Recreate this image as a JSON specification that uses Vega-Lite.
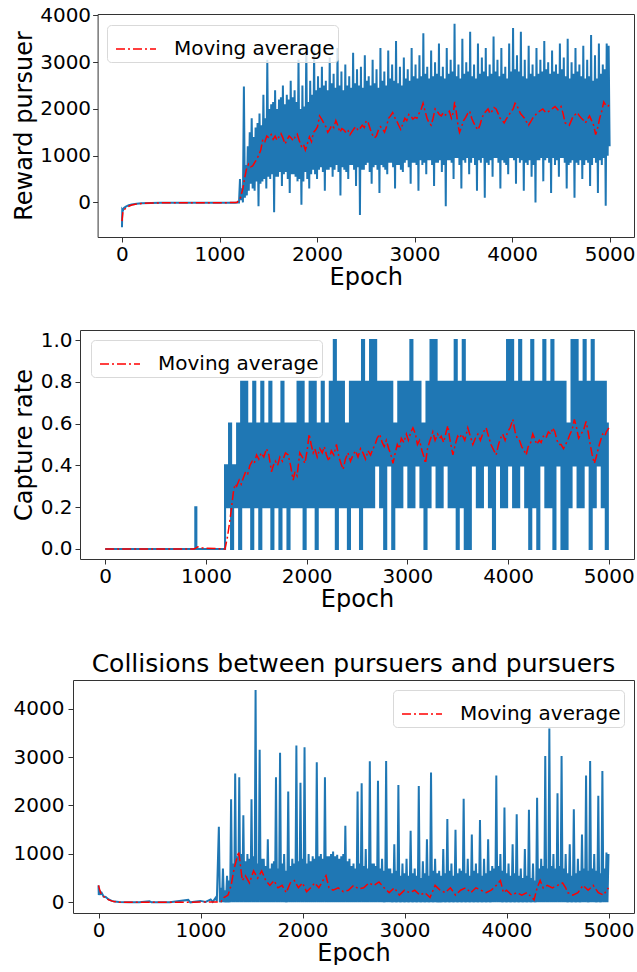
{
"$schema": "https://vega.github.io/schema/vega-lite/v6.json",
"padding": {"left": 12, "top": 5, "right": 0, "bottom": 0},
"spacing": 41,
"columns": 1,
"config": {
  "font": "DejaVu Sans",
  "view": {"stroke": null},
  "axis": {"grid": false, "domain": true, "domainColor": "#333333", "domainWidth": 1, "tickColor": "#333333", "tickSize": 5, "labelFontSize": 20, "labelColor": "#000000", "titleFontSize": 24, "titleFontWeight": "normal", "titleColor": "#000000"},
  "legend": {"symbolType": "stroke", "symbolStrokeWidth": 1.5, "symbolDash": [9,3,2,3], "symbolSize": 1600, "symbolOffset": 5, "labelFontSize": 20, "labelColor": "#000000", "labelLimit": 400, "fillColor": "rgba(255,255,255,0.8)", "strokeColor": "#d9d9d9", "cornerRadius": 4, "padding": 3, "labelOffset": 17}
},
"datasets": {
"b1": [{"e":0,"v":-530},{"e":3,"v":-150},{"e":10,"v":-170},{"e":20,"v":-120},{"e":40,"v":-90},{"e":70,"v":-60},{"e":100,"v":-45},{"e":150,"v":-30},{"e":200,"v":-20},{"e":300,"v":-12},{"e":400,"v":-10},{"e":600,"v":-8},{"e":800,"v":-6},{"e":1000,"v":-5},{"e":1160,"v":-5},{"e":1180,"v":0},
{"e":1200,"v":0},{"e":1210,"v":500},{"e":1220,"v":50},{"e":1230,"v":300},{"e":1240,"v":0},{"e":1250,"v":2480},{"e":1260,"v":100},{"e":1270,"v":800},{"e":1280,"v":150},{"e":1290,"v":1200},{"e":1300,"v":250},{"e":1310,"v":1500},{"e":1320,"v":400},{"e":1330,"v":1800},{"e":1340,"v":300},{"e":1350,"v":1400},{"e":1360,"v":250},{"e":1370,"v":1600},{"e":1380,"v":450},{"e":1390,"v":1700},
{"e":1400,"v":-80},{"e":1410,"v":1900},{"e":1420,"v":400},{"e":1430,"v":1650},{"e":1440,"v":450},{"e":1450,"v":2300},{"e":1460,"v":500},{"e":1470,"v":1800},{"e":1480,"v":300},{"e":1490,"v":3050},{"e":1500,"v":550},{"e":1510,"v":2000},{"e":1520,"v":500},{"e":1530,"v":2100},{"e":1540,"v":600},{"e":1550,"v":2150},{"e":1560,"v":-210},{"e":1570,"v":2400},{"e":1580,"v":550},{"e":1590,"v":2000},
{"e":1600,"v":550},{"e":1610,"v":2200},{"e":1620,"v":650},{"e":1630,"v":2250},{"e":1640,"v":350},{"e":1650,"v":2500},{"e":1660,"v":600},{"e":1670,"v":2100},{"e":1680,"v":650},{"e":1690,"v":2300},{"e":1700,"v":500},{"e":1710,"v":2200},{"e":1720,"v":200},{"e":1730,"v":2600},{"e":1740,"v":600},{"e":1750,"v":2250},{"e":1760,"v":600},{"e":1770,"v":2400},{"e":1780,"v":550},{"e":1790,"v":2150},
{"e":1800,"v":450},{"e":1810,"v":3050},{"e":1820,"v":500},{"e":1830,"v":2000},{"e":1840,"v":-50},{"e":1850,"v":2500},{"e":1860,"v":450},{"e":1870,"v":2050},{"e":1880,"v":650},{"e":1890,"v":3400},{"e":1900,"v":500},{"e":1910,"v":2150},{"e":1920,"v":300},{"e":1930,"v":2600},{"e":1940,"v":600},{"e":1950,"v":2300},{"e":1960,"v":700},{"e":1970,"v":3250},{"e":1980,"v":600},{"e":1990,"v":2400},
{"e":2000,"v":500},{"e":2010,"v":2700},{"e":2020,"v":700},{"e":2030,"v":2450},{"e":2040,"v":750},{"e":2050,"v":2900},{"e":2060,"v":650},{"e":2070,"v":2500},{"e":2080,"v":250},{"e":2090,"v":2600},{"e":2100,"v":700},{"e":2110,"v":2400},{"e":2120,"v":700},{"e":2130,"v":3100},{"e":2140,"v":750},{"e":2150,"v":2550},{"e":2160,"v":550},{"e":2170,"v":2750},{"e":2180,"v":700},{"e":2190,"v":2450},
{"e":2200,"v":800},{"e":2210,"v":3300},{"e":2220,"v":650},{"e":2230,"v":2500},{"e":2240,"v":150},{"e":2250,"v":2800},{"e":2260,"v":750},{"e":2270,"v":2400},{"e":2280,"v":700},{"e":2290,"v":2950},{"e":2300,"v":650},{"e":2310,"v":2500},{"e":2320,"v":500},{"e":2330,"v":2700},{"e":2340,"v":800},{"e":2350,"v":2450},{"e":2360,"v":800},{"e":2370,"v":3200},{"e":2380,"v":700},{"e":2390,"v":2550},
{"e":2400,"v":350},{"e":2410,"v":2850},{"e":2420,"v":750},{"e":2430,"v":2500},{"e":2440,"v":-270},{"e":2450,"v":2900},{"e":2460,"v":700},{"e":2470,"v":2450},{"e":2480,"v":700},{"e":2490,"v":3150},{"e":2500,"v":800},{"e":2510,"v":2600},{"e":2520,"v":850},{"e":2530,"v":2700},{"e":2540,"v":650},{"e":2550,"v":2500},{"e":2560,"v":400},{"e":2570,"v":3050},{"e":2580,"v":750},{"e":2590,"v":2550},
{"e":2600,"v":800},{"e":2610,"v":2850},{"e":2620,"v":700},{"e":2630,"v":2450},{"e":2640,"v":200},{"e":2650,"v":3300},{"e":2660,"v":800},{"e":2670,"v":2600},{"e":2680,"v":750},{"e":2690,"v":2800},{"e":2700,"v":700},{"e":2710,"v":2500},{"e":2720,"v":600},{"e":2730,"v":3250},{"e":2740,"v":850},{"e":2750,"v":2650},{"e":2760,"v":850},{"e":2770,"v":2950},{"e":2780,"v":750},{"e":2790,"v":2600},
{"e":2800,"v":300},{"e":2810,"v":3450},{"e":2820,"v":800},{"e":2830,"v":2550},{"e":2840,"v":800},{"e":2850,"v":2900},{"e":2860,"v":700},{"e":2870,"v":2500},{"e":2880,"v":650},{"e":2890,"v":3100},{"e":2900,"v":850},{"e":2910,"v":2650},{"e":2920,"v":900},{"e":2930,"v":2850},{"e":2940,"v":750},{"e":2950,"v":2600},{"e":2960,"v":400},{"e":2970,"v":3300},{"e":2980,"v":850},{"e":2990,"v":2700},
{"e":3000,"v":850},{"e":3010,"v":2950},{"e":3020,"v":800},{"e":3030,"v":2650},{"e":3040,"v":250},{"e":3050,"v":3150},{"e":3060,"v":900},{"e":3070,"v":2700},{"e":3080,"v":800},{"e":3090,"v":3620},{"e":3100,"v":850},{"e":3110,"v":2750},{"e":3120,"v":600},{"e":3130,"v":2900},{"e":3140,"v":900},{"e":3150,"v":2650},{"e":3160,"v":900},{"e":3170,"v":3250},{"e":3180,"v":800},{"e":3190,"v":2700},
{"e":3200,"v":350},{"e":3210,"v":3000},{"e":3220,"v":850},{"e":3230,"v":2750},{"e":3240,"v":850},{"e":3250,"v":3400},{"e":3260,"v":900},{"e":3270,"v":2700},{"e":3280,"v":650},{"e":3290,"v":2900},{"e":3300,"v":800},{"e":3310,"v":2650},{"e":3320,"v":-80},{"e":3330,"v":3300},{"e":3340,"v":900},{"e":3350,"v":2750},{"e":3360,"v":900},{"e":3370,"v":3050},{"e":3380,"v":850},{"e":3390,"v":2800},
{"e":3400,"v":500},{"e":3410,"v":3820},{"e":3420,"v":950},{"e":3430,"v":2700},{"e":3440,"v":950},{"e":3450,"v":2950},{"e":3460,"v":800},{"e":3470,"v":2650},{"e":3480,"v":300},{"e":3490,"v":3500},{"e":3500,"v":900},{"e":3510,"v":2750},{"e":3520,"v":850},{"e":3530,"v":3000},{"e":3540,"v":950},{"e":3550,"v":2800},{"e":3560,"v":600},{"e":3570,"v":3650},{"e":3580,"v":850},{"e":3590,"v":2700},
{"e":3600,"v":950},{"e":3610,"v":2950},{"e":3620,"v":800},{"e":3630,"v":2650},{"e":3640,"v":250},{"e":3650,"v":3400},{"e":3660,"v":900},{"e":3670,"v":2750},{"e":3680,"v":850},{"e":3690,"v":3100},{"e":3700,"v":950},{"e":3710,"v":2800},{"e":3720,"v":100},{"e":3730,"v":3300},{"e":3740,"v":850},{"e":3750,"v":2700},{"e":3760,"v":800},{"e":3770,"v":2950},{"e":3780,"v":900},{"e":3790,"v":2750},
{"e":3800,"v":550},{"e":3810,"v":3550},{"e":3820,"v":950},{"e":3830,"v":2800},{"e":3840,"v":950},{"e":3850,"v":3050},{"e":3860,"v":850},{"e":3870,"v":2700},{"e":3880,"v":300},{"e":3890,"v":3300},{"e":3900,"v":900},{"e":3910,"v":2750},{"e":3920,"v":850},{"e":3930,"v":2900},{"e":3940,"v":800},{"e":3950,"v":2650},{"e":3960,"v":600},{"e":3970,"v":3400},{"e":3980,"v":950},{"e":3990,"v":2800},
{"e":4000,"v":950},{"e":4010,"v":3730},{"e":4020,"v":900},{"e":4030,"v":2850},{"e":4040,"v":400},{"e":4050,"v":3150},{"e":4060,"v":950},{"e":4070,"v":2800},{"e":4080,"v":850},{"e":4090,"v":3650},{"e":4100,"v":900},{"e":4110,"v":2700},{"e":4120,"v":250},{"e":4130,"v":3050},{"e":4140,"v":850},{"e":4150,"v":2650},{"e":4160,"v":800},{"e":4170,"v":3350},{"e":4180,"v":900},{"e":4190,"v":2750},
{"e":4200,"v":550},{"e":4210,"v":2950},{"e":4220,"v":800},{"e":4230,"v":2700},{"e":4240,"v":0},{"e":4250,"v":3300},{"e":4260,"v":900},{"e":4270,"v":2750},{"e":4280,"v":900},{"e":4290,"v":3050},{"e":4300,"v":950},{"e":4310,"v":2800},{"e":4320,"v":450},{"e":4330,"v":3450},{"e":4340,"v":900},{"e":4350,"v":2850},{"e":4360,"v":950},{"e":4370,"v":3000},{"e":4380,"v":850},{"e":4390,"v":2750},
{"e":4400,"v":200},{"e":4410,"v":3250},{"e":4420,"v":950},{"e":4430,"v":2800},{"e":4440,"v":800},{"e":4450,"v":2950},{"e":4460,"v":900},{"e":4470,"v":2750},{"e":4480,"v":550},{"e":4490,"v":3400},{"e":4500,"v":950},{"e":4510,"v":2850},{"e":4520,"v":950},{"e":4530,"v":3100},{"e":4540,"v":850},{"e":4550,"v":2700},{"e":4560,"v":300},{"e":4570,"v":3500},{"e":4580,"v":800},{"e":4590,"v":2650},
{"e":4600,"v":850},{"e":4610,"v":3000},{"e":4620,"v":900},{"e":4630,"v":2750},{"e":4640,"v":100},{"e":4650,"v":3300},{"e":4660,"v":850},{"e":4670,"v":2800},{"e":4680,"v":800},{"e":4690,"v":2950},{"e":4700,"v":900},{"e":4710,"v":2700},{"e":4720,"v":500},{"e":4730,"v":3350},{"e":4740,"v":800},{"e":4750,"v":2650},{"e":4760,"v":900},{"e":4770,"v":3050},{"e":4780,"v":850},{"e":4790,"v":2700},
{"e":4800,"v":350},{"e":4810,"v":3580},{"e":4820,"v":800},{"e":4830,"v":2600},{"e":4840,"v":950},{"e":4850,"v":3150},{"e":4860,"v":850},{"e":4870,"v":2650},{"e":4880,"v":200},{"e":4890,"v":3400},{"e":4900,"v":900},{"e":4910,"v":2750},{"e":4920,"v":800},{"e":4930,"v":2950},{"e":4940,"v":950},{"e":4950,"v":2850},{"e":4960,"v":-70},{"e":4970,"v":3400},{"e":4980,"v":1000},{"e":4990,"v":3350},{"e":5000,"v":1200}],
"r1": [{"e":0,"v":-400},{"e":10,"v":-200},{"e":30,"v":-140},{"e":60,"v":-90},{"e":100,"v":-55},{"e":150,"v":-35},{"e":200,"v":-22},{"e":300,"v":-12},{"e":500,"v":-8},{"e":800,"v":-6},{"e":1100,"v":-5},{"e":1180,"v":0},{"e":1215,"v":100},{"e":1240,"v":300},{"e":1256,"v":500},{"e":1275,"v":700},{"e":1298,"v":820},{"e":1320,"v":760},{"e":1340,"v":780},{"e":1360,"v":850},{"e":1381,"v":920},{"e":1400,"v":1000},{"e":1423,"v":1120},{"e":1444,"v":1350},{"e":1465,"v":1300},{"e":1485,"v":1420},{"e":1506,"v":1380},{"e":1530,"v":1450},{"e":1550,"v":1350},{"e":1570,"v":1420},{"e":1589,"v":1330},{"e":1610,"v":1400},{"e":1630,"v":1470},{"e":1650,"v":1380},{"e":1672,"v":1250},{"e":1690,"v":1330},{"e":1714,"v":1420},{"e":1735,"v":1380},{"e":1755,"v":1320},{"e":1775,"v":1400},{"e":1797,"v":1460},{"e":1818,"v":1320},{"e":1839,"v":1200},{"e":1860,"v":1250},{"e":1880,"v":1120},{"e":1900,"v":1250},{"e":1922,"v":1400},{"e":1943,"v":1300},{"e":1964,"v":1500},{"e":1985,"v":1550},{"e":2005,"v":1620},{"e":2026,"v":1850},{"e":2047,"v":1780},{"e":2068,"v":1700},{"e":2090,"v":1620},{"e":2110,"v":1500},{"e":2130,"v":1560},{"e":2151,"v":1650},{"e":2172,"v":1600},{"e":2193,"v":1750},{"e":2214,"v":1640},{"e":2234,"v":1500},{"e":2255,"v":1580},{"e":2276,"v":1550},{"e":2300,"v":1480},{"e":2320,"v":1530},{"e":2338,"v":1450},{"e":2360,"v":1520},{"e":2380,"v":1580},{"e":2400,"v":1620},{"e":2420,"v":1540},{"e":2440,"v":1580},{"e":2463,"v":1650},{"e":2485,"v":1600},{"e":2505,"v":1750},{"e":2525,"v":1700},{"e":2547,"v":1560},{"e":2567,"v":1450},{"e":2588,"v":1380},{"e":2608,"v":1420},{"e":2630,"v":1550},{"e":2650,"v":1620},{"e":2670,"v":1580},{"e":2692,"v":1500},{"e":2712,"v":1620},{"e":2733,"v":1800},{"e":2754,"v":1850},{"e":2775,"v":1920},{"e":2796,"v":1820},{"e":2816,"v":1750},{"e":2837,"v":1650},{"e":2858,"v":1560},{"e":2880,"v":1680},{"e":2900,"v":1800},{"e":2920,"v":1750},{"e":2941,"v":1880},{"e":2962,"v":1850},{"e":2983,"v":1780},{"e":3004,"v":1820},{"e":3024,"v":1800},{"e":3045,"v":1900},{"e":3066,"v":1980},{"e":3087,"v":2120},{"e":3108,"v":1950},{"e":3128,"v":1800},{"e":3149,"v":1700},{"e":3170,"v":1650},{"e":3190,"v":1800},{"e":3211,"v":2000},{"e":3232,"v":1950},{"e":3253,"v":1880},{"e":3274,"v":1850},{"e":3295,"v":1920},{"e":3316,"v":1870},{"e":3336,"v":1900},{"e":3357,"v":1950},{"e":3378,"v":1800},{"e":3400,"v":1950},{"e":3411,"v":2150},{"e":3430,"v":1900},{"e":3445,"v":1650},{"e":3461,"v":1500},{"e":3482,"v":1620},{"e":3503,"v":1750},{"e":3524,"v":1820},{"e":3544,"v":1900},{"e":3565,"v":1950},{"e":3586,"v":1800},{"e":3607,"v":1700},{"e":3628,"v":1620},{"e":3649,"v":1550},{"e":3670,"v":1650},{"e":3690,"v":1800},{"e":3711,"v":1900},{"e":3732,"v":1950},{"e":3753,"v":2000},{"e":3774,"v":1900},{"e":3794,"v":1950},{"e":3815,"v":2030},{"e":3836,"v":2000},{"e":3857,"v":1900},{"e":3877,"v":1800},{"e":3898,"v":1760},{"e":3919,"v":1700},{"e":3940,"v":1780},{"e":3961,"v":1850},{"e":3982,"v":1920},{"e":4011,"v":2000},{"e":4030,"v":2120},{"e":4044,"v":2100},{"e":4065,"v":2000},{"e":4086,"v":1900},{"e":4107,"v":1850},{"e":4127,"v":1800},{"e":4148,"v":1720},{"e":4169,"v":1650},{"e":4190,"v":1720},{"e":4211,"v":1800},{"e":4232,"v":1850},{"e":4252,"v":1900},{"e":4280,"v":1950},{"e":4315,"v":2000},{"e":4346,"v":1920},{"e":4377,"v":1950},{"e":4408,"v":2000},{"e":4440,"v":2050},{"e":4470,"v":1980},{"e":4502,"v":2050},{"e":4523,"v":1900},{"e":4544,"v":1700},{"e":4565,"v":1680},{"e":4586,"v":1650},{"e":4607,"v":1750},{"e":4627,"v":1850},{"e":4648,"v":1880},{"e":4669,"v":1920},{"e":4690,"v":1850},{"e":4711,"v":1800},{"e":4732,"v":1760},{"e":4752,"v":1700},{"e":4773,"v":1780},{"e":4794,"v":1850},{"e":4815,"v":1750},{"e":4836,"v":1650},{"e":4857,"v":1450},{"e":4878,"v":1600},{"e":4898,"v":1800},{"e":4919,"v":1950},{"e":4940,"v":2150},{"e":4960,"v":2080},{"e":4981,"v":2050},{"e":5000,"v":2100}],
"b2": [{"e":0,"v":0},{"e":890,"v":0},{"e":900,"v":0.2},{"e":910,"v":0},{"e":1160,"v":0},
{"e":1180,"v":0},{"e":1200,"v":0.4},{"e":1220,"v":0.2},{"e":1240,"v":0.6},{"e":1260,"v":0},{"e":1280,"v":0.4},{"e":1300,"v":0.2},{"e":1320,"v":0.6},
{"e":1340,"v":0},{"e":1360,"v":0.8},{"e":1380,"v":0.2},{"e":1400,"v":0.8},{"e":1420,"v":0.2},{"e":1440,"v":0.6},{"e":1460,"v":0},{"e":1480,"v":0.8},{"e":1500,"v":0.2},{"e":1520,"v":0.6},{"e":1540,"v":0},{"e":1560,"v":0.8},{"e":1580,"v":0.2},{"e":1600,"v":0.6},{"e":1620,"v":0.2},{"e":1640,"v":0.8},{"e":1660,"v":0},{"e":1680,"v":0.6},{"e":1700,"v":0.2},{"e":1720,"v":0.6},{"e":1740,"v":0},{"e":1760,"v":0.8},{"e":1780,"v":0.2},{"e":1800,"v":0.6},{"e":1820,"v":0},{"e":1840,"v":0.6},{"e":1860,"v":0.2},{"e":1880,"v":0.6},{"e":1900,"v":0.2},
{"e":1920,"v":0.8},{"e":1940,"v":0.2},{"e":1960,"v":0.8},{"e":1980,"v":0},{"e":2000,"v":0.6},{"e":2020,"v":0.2},{"e":2040,"v":0.8},{"e":2060,"v":0.2},{"e":2080,"v":0.8},{"e":2100,"v":0},{"e":2120,"v":0.6},{"e":2140,"v":0.2},{"e":2160,"v":0.8},{"e":2180,"v":0.2},{"e":2200,"v":0.6},{"e":2220,"v":0.2},{"e":2240,"v":0.8},
{"e":2260,"v":0.2},{"e":2280,"v":1.0},{"e":2300,"v":0},{"e":2320,"v":0.8},{"e":2340,"v":0.2},{"e":2360,"v":0.8},{"e":2380,"v":0.2},{"e":2400,"v":0.6},{"e":2420,"v":0},{"e":2440,"v":0.8},{"e":2460,"v":0.2},{"e":2480,"v":0.8},{"e":2500,"v":0.2},{"e":2520,"v":0.8},{"e":2540,"v":0},{"e":2560,"v":1.0},{"e":2580,"v":0.2},{"e":2600,"v":0.8},{"e":2620,"v":0.2},{"e":2640,"v":1.0},{"e":2660,"v":0.2},{"e":2680,"v":1.0},{"e":2700,"v":0.4},{"e":2720,"v":0.8},{"e":2740,"v":0.2},{"e":2760,"v":0.8},{"e":2780,"v":0},{"e":2800,"v":0.8},{"e":2820,"v":0.4},{"e":2840,"v":0.8},{"e":2860,"v":0},{"e":2880,"v":0.6},{"e":2900,"v":0.2},
{"e":2920,"v":0.8},{"e":2940,"v":0.2},{"e":2960,"v":0.8},{"e":2980,"v":0.4},{"e":3000,"v":0.8},{"e":3020,"v":0.2},{"e":3040,"v":1.0},{"e":3060,"v":0.2},{"e":3080,"v":0.8},{"e":3100,"v":0.4},{"e":3120,"v":0.8},{"e":3140,"v":0.2},{"e":3160,"v":0.6},{"e":3180,"v":0},{"e":3200,"v":0.8},{"e":3220,"v":0.2},{"e":3240,"v":1.0},{"e":3260,"v":0.4},{"e":3280,"v":1.0},{"e":3300,"v":0.2},{"e":3320,"v":0.8},{"e":3340,"v":0.2},{"e":3360,"v":0.8},{"e":3380,"v":0.4},{"e":3400,"v":0.8},{"e":3420,"v":0.2},{"e":3440,"v":0.8},{"e":3460,"v":0.2},{"e":3480,"v":1.0},{"e":3500,"v":0},{"e":3520,"v":0.8},{"e":3540,"v":0.2},{"e":3560,"v":1.0},{"e":3580,"v":0},{"e":3600,"v":0.8},{"e":3620,"v":0},{"e":3640,"v":0.8},{"e":3660,"v":0.4},{"e":3680,"v":0.8},{"e":3700,"v":0.2},{"e":3720,"v":0.8},{"e":3740,"v":0.2},{"e":3760,"v":0.8},{"e":3780,"v":0.4},{"e":3800,"v":0.8},{"e":3820,"v":0.2},{"e":3840,"v":0.8},{"e":3860,"v":0},{"e":3880,"v":0.8},{"e":3900,"v":0.4},{"e":3920,"v":0.8},{"e":3940,"v":0.2},{"e":3960,"v":0.8},{"e":3980,"v":0.2},{"e":4000,"v":1.0},{"e":4020,"v":0.4},{"e":4040,"v":1.0},{"e":4060,"v":0.2},{"e":4080,"v":0.8},{"e":4100,"v":0.2},{"e":4120,"v":1.0},{"e":4140,"v":0.4},{"e":4160,"v":0.8},{"e":4180,"v":0.2},{"e":4200,"v":0.8},{"e":4220,"v":0},{"e":4240,"v":1.0},{"e":4260,"v":0.2},{"e":4280,"v":0.8},{"e":4300,"v":0},{"e":4320,"v":0.8},{"e":4340,"v":0.4},{"e":4360,"v":1.0},{"e":4380,"v":0.2},{"e":4400,"v":0.8},{"e":4420,"v":0.2},{"e":4440,"v":1.0},{"e":4460,"v":0},{"e":4480,"v":0.8},{"e":4500,"v":0.4},{"e":4520,"v":0.8},{"e":4540,"v":0},{"e":4560,"v":0.8},{"e":4580,"v":0},{"e":4600,"v":0.6},{"e":4620,"v":0.2},{"e":4640,"v":1.0},{"e":4660,"v":0.4},{"e":4680,"v":1.0},{"e":4700,"v":0.2},{"e":4720,"v":0.8},{"e":4740,"v":0.2},{"e":4760,"v":1.0},{"e":4780,"v":0.4},{"e":4800,"v":0.8},{"e":4820,"v":0},{"e":4840,"v":1.0},{"e":4860,"v":0.2},{"e":4880,"v":0.8},{"e":4900,"v":0.4},{"e":4920,"v":0.8},{"e":4940,"v":0.2},{"e":4960,"v":0.8},{"e":4980,"v":0},{"e":5000,"v":0.6}],
"r2": [{"e":0,"v":0},{"e":880,"v":0},{"e":900,"v":0.004},{"e":920,"v":0.01},{"e":960,"v":0.006},{"e":1000,"v":0.004},{"e":1190,"v":0},{"e":1215,"v":0.06},{"e":1239,"v":0.14},{"e":1255,"v":0.2},{"e":1272,"v":0.27},{"e":1290,"v":0.31},{"e":1305,"v":0.30},{"e":1330,"v":0.33},{"e":1350,"v":0.31},{"e":1371,"v":0.34},{"e":1395,"v":0.37},{"e":1415,"v":0.36},{"e":1437,"v":0.40},{"e":1460,"v":0.42},{"e":1480,"v":0.41},{"e":1503,"v":0.45},{"e":1525,"v":0.43},{"e":1550,"v":0.46},{"e":1575,"v":0.44},{"e":1602,"v":0.48},{"e":1625,"v":0.45},{"e":1651,"v":0.37},{"e":1670,"v":0.40},{"e":1690,"v":0.42},{"e":1712,"v":0.40},{"e":1734,"v":0.44},{"e":1760,"v":0.42},{"e":1790,"v":0.46},{"e":1817,"v":0.45},{"e":1840,"v":0.40},{"e":1866,"v":0.33},{"e":1885,"v":0.37},{"e":1905,"v":0.35},{"e":1932,"v":0.46},{"e":1957,"v":0.44},{"e":1982,"v":0.41},{"e":2005,"v":0.47},{"e":2025,"v":0.55},{"e":2045,"v":0.50},{"e":2065,"v":0.46},{"e":2081,"v":0.48},{"e":2105,"v":0.44},{"e":2131,"v":0.48},{"e":2155,"v":0.46},{"e":2175,"v":0.49},{"e":2197,"v":0.45},{"e":2220,"v":0.42},{"e":2245,"v":0.47},{"e":2270,"v":0.45},{"e":2296,"v":0.50},{"e":2320,"v":0.44},{"e":2340,"v":0.41},{"e":2362,"v":0.38},{"e":2385,"v":0.43},{"e":2410,"v":0.46},{"e":2435,"v":0.42},{"e":2461,"v":0.45},{"e":2485,"v":0.47},{"e":2510,"v":0.44},{"e":2535,"v":0.48},{"e":2560,"v":0.46},{"e":2585,"v":0.43},{"e":2610,"v":0.47},{"e":2635,"v":0.45},{"e":2659,"v":0.48},{"e":2680,"v":0.50},{"e":2700,"v":0.53},{"e":2725,"v":0.55},{"e":2750,"v":0.51},{"e":2770,"v":0.49},{"e":2791,"v":0.52},{"e":2815,"v":0.48},{"e":2837,"v":0.45},{"e":2857,"v":0.41},{"e":2880,"v":0.46},{"e":2900,"v":0.50},{"e":2920,"v":0.48},{"e":2940,"v":0.53},{"e":2965,"v":0.51},{"e":2990,"v":0.55},{"e":3010,"v":0.52},{"e":3035,"v":0.56},{"e":3055,"v":0.58},{"e":3080,"v":0.55},{"e":3100,"v":0.50},{"e":3121,"v":0.52},{"e":3145,"v":0.47},{"e":3165,"v":0.44},{"e":3180,"v":0.41},{"e":3200,"v":0.48},{"e":3225,"v":0.52},{"e":3253,"v":0.56},{"e":3275,"v":0.52},{"e":3300,"v":0.55},{"e":3320,"v":0.53},{"e":3336,"v":0.54},{"e":3360,"v":0.51},{"e":3385,"v":0.56},{"e":3402,"v":0.59},{"e":3420,"v":0.53},{"e":3440,"v":0.48},{"e":3452,"v":0.45},{"e":3475,"v":0.50},{"e":3500,"v":0.54},{"e":3518,"v":0.53},{"e":3540,"v":0.55},{"e":3570,"v":0.52},{"e":3600,"v":0.58},{"e":3625,"v":0.54},{"e":3650,"v":0.50},{"e":3675,"v":0.53},{"e":3700,"v":0.55},{"e":3725,"v":0.52},{"e":3755,"v":0.56},{"e":3782,"v":0.58},{"e":3805,"v":0.54},{"e":3830,"v":0.50},{"e":3860,"v":0.47},{"e":3881,"v":0.45},{"e":3905,"v":0.50},{"e":3925,"v":0.53},{"e":3947,"v":0.55},{"e":3970,"v":0.52},{"e":3995,"v":0.56},{"e":4020,"v":0.58},{"e":4047,"v":0.62},{"e":4070,"v":0.56},{"e":4090,"v":0.53},{"e":4113,"v":0.52},{"e":4135,"v":0.49},{"e":4160,"v":0.47},{"e":4179,"v":0.45},{"e":4200,"v":0.49},{"e":4225,"v":0.51},{"e":4245,"v":0.55},{"e":4262,"v":0.53},{"e":4285,"v":0.50},{"e":4310,"v":0.52},{"e":4328,"v":0.51},{"e":4350,"v":0.54},{"e":4375,"v":0.53},{"e":4400,"v":0.56},{"e":4425,"v":0.55},{"e":4443,"v":0.58},{"e":4465,"v":0.56},{"e":4485,"v":0.52},{"e":4505,"v":0.50},{"e":4526,"v":0.50},{"e":4550,"v":0.48},{"e":4570,"v":0.50},{"e":4592,"v":0.52},{"e":4615,"v":0.55},{"e":4635,"v":0.57},{"e":4658,"v":0.62},{"e":4680,"v":0.58},{"e":4700,"v":0.53},{"e":4724,"v":0.55},{"e":4750,"v":0.57},{"e":4774,"v":0.61},{"e":4795,"v":0.56},{"e":4815,"v":0.50},{"e":4835,"v":0.45},{"e":4856,"v":0.41},{"e":4875,"v":0.44},{"e":4890,"v":0.47},{"e":4906,"v":0.50},{"e":4925,"v":0.53},{"e":4939,"v":0.55},{"e":4960,"v":0.54},{"e":4975,"v":0.56},{"e":4988,"v":0.57},{"e":5000,"v":0.58}],
"b3": [{"e":0,"v":350},{"e":3,"v":150},{"e":10,"v":250},{"e":20,"v":180},{"e":30,"v":200},{"e":50,"v":120},{"e":70,"v":110},{"e":100,"v":60},{"e":130,"v":30},{"e":160,"v":15},{"e":200,"v":5},{"e":300,"v":3},{"e":400,"v":0},{"e":500,"v":20},{"e":520,"v":0},{"e":700,"v":0},{"e":880,"v":50},{"e":900,"v":0},{"e":1000,"v":30},{"e":1050,"v":10},{"e":1100,"v":60},{"e":1120,"v":10},{"e":1150,"v":100},{"e":1160,"v":20},
{"e":1180,"v":1560},{"e":1190,"v":0},{"e":1200,"v":300},{"e":1210,"v":0},{"e":1220,"v":700},{"e":1230,"v":0},{"e":1240,"v":250},{"e":1250,"v":0},{"e":1260,"v":550},{"e":1270,"v":0},{"e":1280,"v":450},{"e":1290,"v":0},{"e":1300,"v":2130},{"e":1310,"v":0},{"e":1320,"v":800},{"e":1330,"v":0},{"e":1340,"v":2660},{"e":1350,"v":0},{"e":1360,"v":950},{"e":1370,"v":0},{"e":1380,"v":2580},{"e":1390,"v":0},{"e":1400,"v":1000},{"e":1410,"v":0},{"e":1420,"v":1800},{"e":1430,"v":0},{"e":1440,"v":850},{"e":1450,"v":0},{"e":1460,"v":1000},{"e":1470,"v":0},{"e":1480,"v":900},{"e":1490,"v":0},{"e":1500,"v":2130},{"e":1510,"v":0},{"e":1520,"v":950},{"e":1530,"v":0},{"e":1540,"v":4385},{"e":1550,"v":0},{"e":1560,"v":800},{"e":1570,"v":0},{"e":1580,"v":3150},{"e":1590,"v":0},{"e":1600,"v":900},{"e":1610,"v":0},{"e":1620,"v":900},{"e":1630,"v":0},{"e":1640,"v":750},{"e":1650,"v":0},{"e":1660,"v":1300},{"e":1670,"v":0},{"e":1680,"v":700},{"e":1690,"v":0},{"e":1700,"v":800},{"e":1710,"v":0},{"e":1720,"v":850},{"e":1730,"v":0},{"e":1740,"v":2580},{"e":1750,"v":0},{"e":1760,"v":700},{"e":1770,"v":0},{"e":1780,"v":3090},{"e":1790,"v":0},{"e":1800,"v":800},{"e":1810,"v":0},{"e":1820,"v":1000},{"e":1830,"v":0},{"e":1840,"v":650},{"e":1850,"v":0},{"e":1860,"v":2290},{"e":1870,"v":0},{"e":1880,"v":750},{"e":1890,"v":0},{"e":1900,"v":900},{"e":1910,"v":0},{"e":1920,"v":800},{"e":1930,"v":0},{"e":1940,"v":3240},{"e":1950,"v":0},{"e":1960,"v":850},{"e":1970,"v":0},{"e":1980,"v":2470},{"e":1990,"v":0},{"e":2000,"v":900},{"e":2010,"v":0},{"e":2020,"v":3200},{"e":2030,"v":0},{"e":2040,"v":800},{"e":2050,"v":0},{"e":2060,"v":1000},{"e":2070,"v":0},{"e":2080,"v":850},{"e":2090,"v":0},{"e":2100,"v":950},{"e":2110,"v":0},{"e":2120,"v":900},{"e":2130,"v":0},{"e":2140,"v":2890},{"e":2150,"v":0},{"e":2160,"v":950},{"e":2170,"v":0},{"e":2180,"v":1000},{"e":2190,"v":0},{"e":2200,"v":900},{"e":2210,"v":0},{"e":2220,"v":2580},{"e":2230,"v":0},{"e":2240,"v":950},{"e":2250,"v":0},{"e":2260,"v":950},{"e":2270,"v":0},{"e":2280,"v":1000},{"e":2290,"v":0},{"e":2300,"v":1050},{"e":2310,"v":0},{"e":2320,"v":950},{"e":2330,"v":0},{"e":2340,"v":980},{"e":2350,"v":0},{"e":2360,"v":900},{"e":2370,"v":0},{"e":2380,"v":950},{"e":2390,"v":0},{"e":2400,"v":1000},{"e":2410,"v":0},{"e":2420,"v":1580},{"e":2430,"v":0},{"e":2440,"v":850},{"e":2450,"v":0},{"e":2460,"v":900},{"e":2470,"v":0},{"e":2480,"v":750},{"e":2490,"v":0},{"e":2500,"v":800},{"e":2510,"v":0},{"e":2520,"v":700},{"e":2530,"v":0},{"e":2540,"v":2290},{"e":2550,"v":0},{"e":2560,"v":800},{"e":2570,"v":0},{"e":2580,"v":2460},{"e":2590,"v":0},{"e":2600,"v":750},{"e":2610,"v":0},{"e":2620,"v":1100},{"e":2630,"v":0},{"e":2640,"v":700},{"e":2650,"v":0},{"e":2660,"v":2910},{"e":2670,"v":0},{"e":2680,"v":800},{"e":2690,"v":0},{"e":2700,"v":800},{"e":2710,"v":0},{"e":2720,"v":750},{"e":2730,"v":0},{"e":2740,"v":2510},{"e":2750,"v":0},{"e":2760,"v":700},{"e":2770,"v":0},{"e":2780,"v":900},{"e":2790,"v":0},{"e":2800,"v":650},{"e":2810,"v":0},{"e":2820,"v":2920},{"e":2830,"v":0},{"e":2840,"v":700},{"e":2850,"v":0},{"e":2860,"v":700},{"e":2870,"v":0},{"e":2880,"v":600},{"e":2890,"v":0},{"e":2900,"v":1200},{"e":2910,"v":0},{"e":2920,"v":650},{"e":2930,"v":0},{"e":2940,"v":2420},{"e":2950,"v":0},{"e":2960,"v":550},{"e":2970,"v":0},{"e":2980,"v":800},{"e":2990,"v":0},{"e":3000,"v":600},{"e":3010,"v":0},{"e":3020,"v":900},{"e":3030,"v":0},{"e":3040,"v":550},{"e":3050,"v":0},{"e":3060,"v":1480},{"e":3070,"v":0},{"e":3080,"v":600},{"e":3090,"v":0},{"e":3100,"v":700},{"e":3110,"v":0},{"e":3120,"v":550},{"e":3130,"v":0},{"e":3140,"v":2400},{"e":3150,"v":0},{"e":3160,"v":500},{"e":3170,"v":0},{"e":3180,"v":850},{"e":3190,"v":0},{"e":3200,"v":600},{"e":3210,"v":0},{"e":3220,"v":1300},{"e":3230,"v":0},{"e":3240,"v":550},{"e":3250,"v":0},{"e":3260,"v":2680},{"e":3270,"v":0},{"e":3280,"v":650},{"e":3290,"v":0},{"e":3300,"v":900},{"e":3310,"v":0},{"e":3320,"v":600},{"e":3330,"v":0},{"e":3340,"v":650},{"e":3350,"v":0},{"e":3360,"v":550},{"e":3370,"v":0},{"e":3380,"v":1100},{"e":3390,"v":0},{"e":3400,"v":600},{"e":3410,"v":0},{"e":3420,"v":1720},{"e":3430,"v":0},{"e":3440,"v":650},{"e":3450,"v":0},{"e":3460,"v":800},{"e":3470,"v":0},{"e":3480,"v":550},{"e":3490,"v":0},{"e":3500,"v":1500},{"e":3510,"v":0},{"e":3520,"v":600},{"e":3530,"v":0},{"e":3540,"v":700},{"e":3550,"v":0},{"e":3560,"v":650},{"e":3570,"v":0},{"e":3580,"v":2140},{"e":3590,"v":0},{"e":3600,"v":600},{"e":3610,"v":0},{"e":3620,"v":900},{"e":3630,"v":0},{"e":3640,"v":550},{"e":3650,"v":0},{"e":3660,"v":1400},{"e":3670,"v":0},{"e":3680,"v":650},{"e":3690,"v":0},{"e":3700,"v":800},{"e":3710,"v":0},{"e":3720,"v":600},{"e":3730,"v":0},{"e":3740,"v":1700},{"e":3750,"v":0},{"e":3760,"v":550},{"e":3770,"v":0},{"e":3780,"v":900},{"e":3790,"v":0},{"e":3800,"v":600},{"e":3810,"v":0},{"e":3820,"v":1300},{"e":3830,"v":0},{"e":3840,"v":650},{"e":3850,"v":0},{"e":3860,"v":750},{"e":3870,"v":0},{"e":3880,"v":700},{"e":3890,"v":0},{"e":3900,"v":2620},{"e":3910,"v":0},{"e":3920,"v":750},{"e":3930,"v":0},{"e":3940,"v":1000},{"e":3950,"v":0},{"e":3960,"v":650},{"e":3970,"v":0},{"e":3980,"v":1960},{"e":3990,"v":0},{"e":4000,"v":600},{"e":4010,"v":0},{"e":4020,"v":800},{"e":4030,"v":0},{"e":4040,"v":550},{"e":4050,"v":0},{"e":4060,"v":1200},{"e":4070,"v":0},{"e":4080,"v":600},{"e":4090,"v":0},{"e":4100,"v":1820},{"e":4110,"v":0},{"e":4120,"v":550},{"e":4130,"v":0},{"e":4140,"v":700},{"e":4150,"v":0},{"e":4160,"v":500},{"e":4170,"v":0},{"e":4180,"v":1100},{"e":4190,"v":0},{"e":4200,"v":550},{"e":4210,"v":0},{"e":4220,"v":1910},{"e":4230,"v":0},{"e":4240,"v":500},{"e":4250,"v":0},{"e":4260,"v":800},{"e":4270,"v":0},{"e":4280,"v":450},{"e":4290,"v":0},{"e":4300,"v":2160},{"e":4310,"v":0},{"e":4320,"v":700},{"e":4330,"v":0},{"e":4340,"v":900},{"e":4350,"v":0},{"e":4360,"v":750},{"e":4370,"v":0},{"e":4380,"v":3020},{"e":4390,"v":0},{"e":4400,"v":700},{"e":4410,"v":0},{"e":4420,"v":3590},{"e":4430,"v":0},{"e":4440,"v":750},{"e":4450,"v":0},{"e":4460,"v":1000},{"e":4470,"v":0},{"e":4480,"v":700},{"e":4490,"v":0},{"e":4500,"v":2250},{"e":4510,"v":0},{"e":4520,"v":750},{"e":4530,"v":0},{"e":4540,"v":3020},{"e":4550,"v":0},{"e":4560,"v":700},{"e":4570,"v":0},{"e":4580,"v":1000},{"e":4590,"v":0},{"e":4600,"v":600},{"e":4610,"v":0},{"e":4620,"v":1200},{"e":4630,"v":0},{"e":4640,"v":550},{"e":4650,"v":0},{"e":4660,"v":1920},{"e":4670,"v":0},{"e":4680,"v":600},{"e":4690,"v":0},{"e":4700,"v":900},{"e":4710,"v":0},{"e":4720,"v":650},{"e":4730,"v":0},{"e":4740,"v":1400},{"e":4750,"v":0},{"e":4760,"v":700},{"e":4770,"v":0},{"e":4780,"v":2620},{"e":4790,"v":0},{"e":4800,"v":650},{"e":4810,"v":0},{"e":4820,"v":2920},{"e":4830,"v":0},{"e":4840,"v":700},{"e":4850,"v":0},{"e":4860,"v":1000},{"e":4870,"v":0},{"e":4880,"v":650},{"e":4890,"v":0},{"e":4900,"v":2200},{"e":4910,"v":0},{"e":4920,"v":600},{"e":4930,"v":0},{"e":4940,"v":2710},{"e":4950,"v":0},{"e":4960,"v":700},{"e":4970,"v":0},{"e":4980,"v":1030},{"e":4990,"v":0},{"e":5000,"v":1000}],
"r3": [{"e":0,"v":350},{"e":20,"v":200},{"e":50,"v":120},{"e":100,"v":50},{"e":150,"v":15},{"e":200,"v":3},{"e":600,"v":2},{"e":1000,"v":5},{"e":1200,"v":10},{"e":1230,"v":100},{"e":1270,"v":150},{"e":1300,"v":350},{"e":1330,"v":700},{"e":1355,"v":900},{"e":1375,"v":1050},{"e":1395,"v":700},{"e":1410,"v":450},{"e":1440,"v":550},{"e":1480,"v":400},{"e":1520,"v":650},{"e":1560,"v":500},{"e":1600,"v":650},{"e":1640,"v":450},{"e":1680,"v":350},{"e":1720,"v":450},{"e":1760,"v":300},{"e":1800,"v":350},{"e":1840,"v":200},{"e":1880,"v":400},{"e":1920,"v":450},{"e":1960,"v":300},{"e":2000,"v":400},{"e":2040,"v":220},{"e":2080,"v":300},{"e":2120,"v":400},{"e":2160,"v":300},{"e":2200,"v":450},{"e":2230,"v":550},{"e":2260,"v":300},{"e":2300,"v":250},{"e":2350,"v":300},{"e":2400,"v":220},{"e":2450,"v":250},{"e":2500,"v":350},{"e":2550,"v":280},{"e":2600,"v":300},{"e":2650,"v":400},{"e":2700,"v":350},{"e":2750,"v":420},{"e":2800,"v":300},{"e":2850,"v":200},{"e":2900,"v":300},{"e":2950,"v":150},{"e":3000,"v":250},{"e":3050,"v":200},{"e":3100,"v":250},{"e":3150,"v":150},{"e":3200,"v":200},{"e":3250,"v":100},{"e":3300,"v":350},{"e":3350,"v":250},{"e":3400,"v":200},{"e":3450,"v":300},{"e":3500,"v":150},{"e":3550,"v":250},{"e":3600,"v":300},{"e":3650,"v":200},{"e":3700,"v":300},{"e":3750,"v":250},{"e":3800,"v":200},{"e":3850,"v":250},{"e":3900,"v":350},{"e":3940,"v":450},{"e":3970,"v":200},{"e":4000,"v":250},{"e":4050,"v":150},{"e":4100,"v":200},{"e":4150,"v":150},{"e":4200,"v":200},{"e":4250,"v":100},{"e":4270,"v":50},{"e":4300,"v":300},{"e":4330,"v":450},{"e":4360,"v":300},{"e":4400,"v":350},{"e":4450,"v":300},{"e":4500,"v":350},{"e":4550,"v":400},{"e":4580,"v":300},{"e":4600,"v":200},{"e":4650,"v":150},{"e":4700,"v":200},{"e":4750,"v":350},{"e":4800,"v":250},{"e":4850,"v":350},{"e":4900,"v":200},{"e":4950,"v":150},{"e":5000,"v":300}]
},
"resolve": {"scale": {"color": "independent"}, "legend": {"color": "independent"}},
"concat": [
{
  "width": 561, "height": 223,
  "resolve": {"axis": {"x": "independent", "y": "independent"}},
  "layer": [
    {"data": {"name": "b1"}, "mark": {"type": "line", "color": "#1f77b4", "strokeWidth": 2},
     "encoding": {
       "x": {"field": "e", "type": "quantitative", "scale": {"domain": [-250, 5250], "range": [24.6, 561], "nice": false, "zero": false}, "axis": {"orient": "bottom", "values": [0,1000,2000,3000,4000,5000], "format": "d", "title": "Epoch", "labelPadding": 2, "titlePadding": 1}},
       "y": {"field": "v", "type": "quantitative", "scale": {"domain": [-740, 4030], "nice": false, "zero": false}, "axis": {"orient": "left", "offset": -24.6, "values": [0,1000,2000,3000,4000], "format": "d", "title": "Reward pursuer", "labelPadding": 2, "titlePadding": 3}}
     }},
    {"data": {"name": "r1"}, "mark": {"type": "line", "strokeWidth": 1.5, "strokeDash": [9,3,2,3]},
     "encoding": {
       "x": {"field": "e", "type": "quantitative", "axis": {"orient": "top", "labels": false, "ticks": false, "title": null}},
       "y": {"field": "v", "type": "quantitative", "axis": {"orient": "right", "labels": false, "ticks": false, "title": null}},
       "color": {"datum": "Moving average", "type": "nominal", "scale": {"range": ["#ff0000"]}, "legend": {"title": null, "orient": "none", "legendX": 34, "legendY": 11}}
     }}
  ]
},
{
  "width": 561, "height": 229,
  "resolve": {"axis": {"x": "independent", "y": "independent"}},
  "layer": [
    {"data": {"name": "b2"}, "mark": {"type": "line", "color": "#1f77b4", "strokeWidth": 2.1, "interpolate": "step"},
     "encoding": {
       "x": {"field": "e", "type": "quantitative", "scale": {"domain": [-250, 5250], "range": [7, 561], "nice": false, "zero": false}, "axis": {"orient": "bottom", "values": [0,1000,2000,3000,4000,5000], "format": "d", "title": "Epoch", "labelPadding": 2, "titlePadding": 1}},
       "y": {"field": "v", "type": "quantitative", "scale": {"domain": [-0.048, 1.048], "nice": false, "zero": false}, "axis": {"orient": "left", "offset": -7, "values": [0,0.2,0.4,0.6,0.8,1.0], "format": ".1f", "title": "Capture rate", "labelPadding": 3, "titlePadding": 4}}
     }},
    {"data": {"name": "r2"}, "mark": {"type": "line", "strokeWidth": 1.5, "strokeDash": [9,3,2,3]},
     "encoding": {
       "x": {"field": "e", "type": "quantitative", "axis": {"orient": "top", "labels": false, "ticks": false, "title": null}},
       "y": {"field": "v", "type": "quantitative", "axis": {"orient": "right", "labels": false, "ticks": false, "title": null}},
       "color": {"datum": "Moving average", "type": "nominal", "scale": {"range": ["#ff0000"]}, "legend": {"title": null, "orient": "none", "legendX": 18, "legendY": 10}}
     }}
  ]
},
{
  "width": 561, "height": 233,
  "title": {"text": "Collisions between pursuers and pursuers", "fontSize": 25, "fontWeight": "normal", "color": "#000000", "anchor": "middle", "offset": 3},
  "resolve": {"axis": {"x": "independent", "y": "independent"}},
  "layer": [
    {"data": {"name": "b3"}, "mark": {"type": "line", "color": "#1f77b4", "strokeWidth": 2},
     "encoding": {
       "x": {"field": "e", "type": "quantitative", "scale": {"domain": [-250, 5250], "nice": false, "zero": false}, "axis": {"orient": "bottom", "values": [0,1000,2000,3000,4000,5000], "format": "d", "title": "Epoch", "labelPadding": 2, "titlePadding": 1}},
       "y": {"field": "v", "type": "quantitative", "scale": {"domain": [-220, 4590], "nice": false, "zero": false}, "axis": {"orient": "left", "values": [0,1000,2000,3000,4000], "format": "d", "title": null, "labelPadding": 4}}
     }},
    {"data": {"name": "r3"}, "mark": {"type": "line", "strokeWidth": 1.5, "strokeDash": [9,3,2,3]},
     "encoding": {
       "x": {"field": "e", "type": "quantitative", "axis": {"orient": "top", "labels": false, "ticks": false, "title": null}},
       "y": {"field": "v", "type": "quantitative", "axis": {"orient": "right", "labels": false, "ticks": false, "title": null}},
       "color": {"datum": "Moving average", "type": "nominal", "scale": {"range": ["#ff0000"]}, "legend": {"title": null, "orient": "top-right", "offset": 10}}
     }}
  ]
}
]
}
